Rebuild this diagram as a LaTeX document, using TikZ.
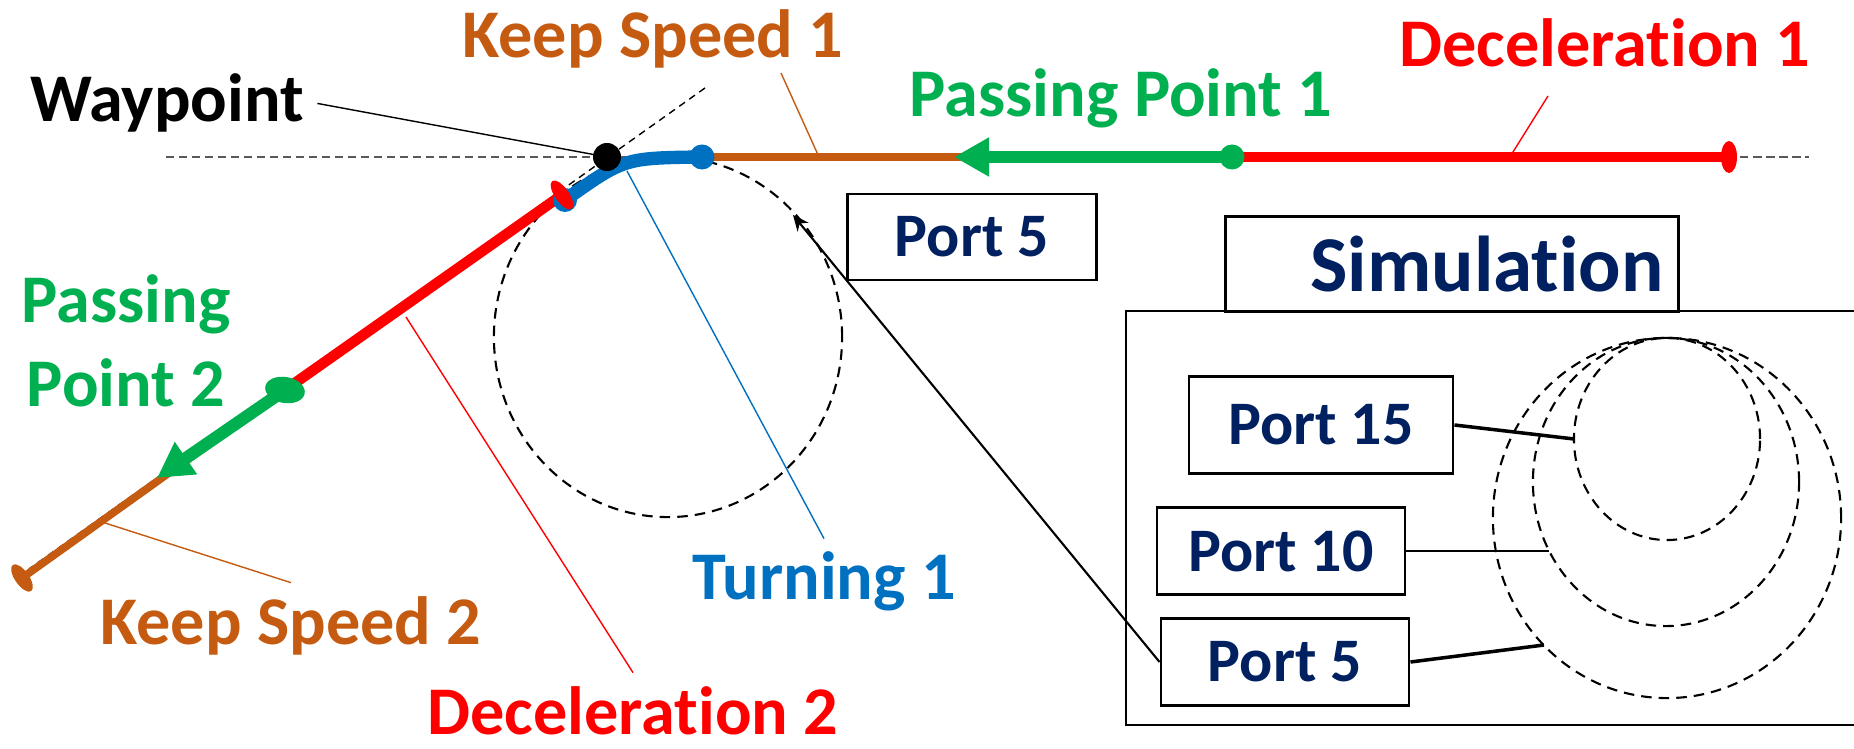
\documentclass[tikz,border=0pt]{standalone}
\usepackage{fontspec}
\setmainfont{Carlito}[Ligatures={NoCommon,NoRare,NoContextual}]
\usetikzlibrary{arrows.meta}
\definecolor{brun}{HTML}{C55A11}
\definecolor{rouge}{HTML}{FF0000}
\definecolor{vert}{HTML}{00B050}
\definecolor{bleu}{HTML}{0070C0}
\definecolor{marine}{HTML}{002060}

\begin{document}
\begin{tikzpicture}[x=0.01cm, y=-0.01cm, line width=1pt,
  etiquette/.style={font=\fontsize{19.4}{24}\selectfont\bfseries, anchor=base},
  boite/.style={draw=black, line width=0.8pt, text=marine, inner sep=0pt, font=\fontsize{17.6}{20}\selectfont\bfseries},
  renvoi/.style={line width=0.4pt},
  guide/.style={line width=0.6pt, dash pattern=on 3pt off 2pt},
  piste/.style={line width=2.2pt},
  fleche/.style={line width=3.5pt, -{Triangle[length=10pt, width=10.5pt]}}]
\useasboundingbox (0,0) rectangle (1854,749) ;

% points of the route
\coordinate (W) at (607,157) ;
\coordinate (B1) at (565,200) ;
\coordinate (Bc) at (624,158) ;
\coordinate (B3) at (702,157) ;
\coordinate (A1) at (954,157) ;
\coordinate (G1) at (1232,157) ;
\coordinate (R1) at (1729,157) ;
\coordinate (R2) at (562,195) ;
\coordinate (G2) at (285,390) ;
\coordinate (A2) at (157,478) ;
\coordinate (K2) at (22,578) ;
\coordinate (T1) at (705,88) ;
\coordinate (T2) at (29,569) ;
\coordinate (C1) at (668,337) ;
\coordinate (C5) at (793,215) ;

% guide lines
\draw[black!65, line width=0.6pt, dash pattern=on 2.3pt off 1.4pt] (166,157) -- (1809,157) ;
\draw[renvoi, dash pattern=on 2pt off 1.5pt] (T1) -- (T2) ;
\draw[guide] (C1) ellipse [x radius=1.74cm, y radius=1.80cm] ;

% labels
\node[etiquette] (wpt) at (167,122) {Waypoint} ;
\node[etiquette, text=brun] (ks1) at (653,58) {Keep Speed 1} ;
\node[etiquette, text=rouge] (dec1) at (1605,67) {Deceleration 1} ;
\node[etiquette, text=vert] (pp1) at (1121,117) {Passing Point 1} ;
\node[etiquette, text=vert, align=center] (pp2) at (126,407) {Passing\\Point 2} ;
\node[etiquette, text=bleu] (turn1) at (824,600) {Turning 1} ;
\node[etiquette, text=brun] (ks2) at (291,644) {Keep Speed 2} ;
\node[etiquette, text=rouge] (dec2) at (633,734) {Deceleration 2} ;

% leaders
\coordinate (KS1a) at (781,73) ;
\coordinate (KS1c) at (819,157) ;
\coordinate (DC1a) at (1548,96) ;
\coordinate (DC1c) at (1508,160) ;
\coordinate (TU1c) at (627,171) ;
\coordinate (DC2c) at (406,317) ;
\coordinate (KS2c) at (105,523) ;
\draw[renvoi] (wpt.east) -- (W) ;
\draw[renvoi, brun] (KS1a) -- (KS1c) ;
\draw[renvoi, rouge] (DC1a) -- (DC1c) ;
\draw[renvoi, bleu] (turn1.north) -- (TU1c) ;
\draw[renvoi, rouge] (dec2.north) -- (DC2c) ;
\draw[renvoi, brun] (ks2.north) -- (KS2c) ;

% route
\draw[piste, brun] (B3) -- (G1) ;
\draw[piste, rouge, line width=3pt] (G1) -- (R1) ;
\draw[fleche, vert] (G1) -- (A1) ;
\draw[piste, rouge, line width=3pt] (R2) -- (G2) ;
\draw[piste, brun] (G2) -- (K2) ;
\draw[fleche, vert] (G2) -- (A2) ;
\draw[bleu, line width=3.8pt] (B1) .. controls (Bc) .. (B3) ;
\fill[rouge] (R1) ellipse [x radius=0.08cm, y radius=0.16cm] ;
\fill[brun] (K2) ellipse [x radius=0.07cm, y radius=0.16cm, rotate=35] ;
\fill[bleu] (B1) circle [radius=0.12cm] ;
\fill[bleu] (B3) circle [radius=0.125cm] ;
\fill[rouge] (R2) ellipse [x radius=0.07cm, y radius=0.17cm, rotate=35] ;
\fill[vert] (G1) circle [radius=0.125cm] ;
\fill[vert] (G2) ellipse [x radius=0.2cm, y radius=0.13cm, rotate=-10] ;
\fill[black] (W) circle [radius=0.14cm] ;

% box Port 5
\node[boite, minimum width=2.49cm, minimum height=0.86cm] (port5a) at (972,237) {Port 5} ;

% box Simulation
\draw[line width=0.8pt] (1854,311) -- (1126,311) -- (1126,725) -- (1854,725) ;
\node[boite, minimum width=4.53cm, minimum height=0.95cm, font=\fontsize{22.5}{26}\selectfont\bfseries] (sim) at (1452,264) {\hspace*{0.7cm}Simulation} ;
\node[boite, minimum width=2.64cm, minimum height=0.97cm] (port15) at (1321,425) {Port 15} ;
\node[boite, minimum width=2.48cm, minimum height=0.87cm] (port10) at (1281,551) {Port 10} ;
\node[boite, minimum width=2.48cm, minimum height=0.87cm] (port5b) at (1285,662) {Port 5} ;
\draw[guide] (1667,439) ellipse [x radius=0.93cm, y radius=1.01cm] ;
\draw[guide] (1666,482) ellipse [x radius=1.33cm, y radius=1.44cm] ;
\draw[guide] (1667,518) ellipse [x radius=1.74cm, y radius=1.80cm] ;
\coordinate (E15) at (1574,439) ;
\coordinate (E10) at (1549,551) ;
\coordinate (E5) at (1544,645) ;
\draw[line width=1pt] (port15.east) -- (E15) ;
\draw[line width=0.8pt] (port10.east) -- (E10) ;
\draw[line width=1pt] (port5b.east) -- (E5) ;
\draw[line width=0.6pt, -{Stealth[length=4.5pt, width=4pt]}] (port5b.west) -- (C5) ;
\end{tikzpicture}
\end{document}
